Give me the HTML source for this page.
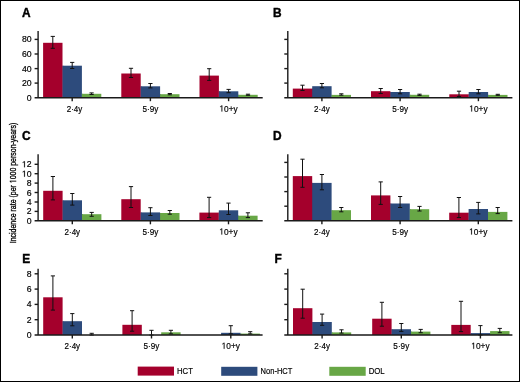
<!DOCTYPE html>
<html><head><meta charset="utf-8"><style>
html,body{margin:0;padding:0;background:#fff;}
.wrap{position:relative;width:518px;height:380px;border:1px solid #000;overflow:hidden;will-change:transform;}
svg{position:absolute;left:-1px;top:-1px;}
text{font-family:"Liberation Sans", sans-serif;fill:#000;stroke:#000;stroke-width:0.18px;}
.pl{font-size:11.9px;font-weight:bold;fill:#000;stroke:#000;stroke-width:0.4px;}
.xl{font-size:8.8px;text-anchor:middle;}
.yl{font-size:8.7px;text-anchor:end;}
.lg{font-size:8.9px;}
.yt{font-size:9.3px;text-anchor:middle;stroke-width:0.32px;}
.ax{stroke:#1a1a1a;stroke-width:1.4;fill:none;}
.eb{stroke:#111;stroke-width:1;fill:none;}
.h1{fill-opacity:0;stroke-opacity:0;}
.one{fill:#000;stroke:#000;stroke-width:42;}
</style></head><body><div class="wrap">
<svg width="520" height="382" viewBox="0 0 520 382">
<text x="21.9" y="16.8" class="pl">A</text>
<rect x="43.10" y="42.8" width="19.40" height="54.90" fill="#a4002c"/>
<rect x="62.30" y="65.7" width="1" height="32.00" fill="#a4002c"/>
<rect x="62.50" y="65.7" width="19.40" height="32.00" fill="#2d4b7c"/>
<rect x="81.70" y="93.8" width="1" height="3.90" fill="#2d4b7c"/>
<rect x="81.90" y="93.8" width="19.40" height="3.90" fill="#68a746"/>
<line x1="72.20" y1="97.7" x2="72.20" y2="101.2" class="ax"/>
<text x="74.50" y="111.5" class="xl" textLength="15.6" lengthAdjust="spacingAndGlyphs">2·4y</text>
<path d="M50.70 36.4H54.90M52.80 36.4V48.3M50.70 48.3H54.90" class="eb"/>
<path d="M70.10 62.4H74.30M72.20 62.4V68.5M70.10 68.5H74.30" class="eb"/>
<path d="M89.50 92.9H93.70M91.60 92.9V94.5M89.50 94.5H93.70" class="eb"/>
<rect x="121.30" y="73.5" width="19.40" height="24.20" fill="#a4002c"/>
<rect x="140.50" y="86.3" width="1" height="11.40" fill="#a4002c"/>
<rect x="140.70" y="86.3" width="19.40" height="11.40" fill="#2d4b7c"/>
<rect x="159.90" y="94.2" width="1" height="3.50" fill="#2d4b7c"/>
<rect x="160.10" y="94.2" width="19.40" height="3.50" fill="#68a746"/>
<line x1="150.40" y1="97.7" x2="150.40" y2="101.2" class="ax"/>
<text x="150.40" y="111.5" class="xl" textLength="15.9" lengthAdjust="spacingAndGlyphs">5·9y</text>
<path d="M128.90 68.3H133.10M131.00 68.3V77.5M128.90 77.5H133.10" class="eb"/>
<path d="M148.30 83.5H152.50M150.40 83.5V87.9M148.30 87.9H152.50" class="eb"/>
<path d="M167.70 93.5H171.90M169.80 93.5V94.8M167.70 94.8H171.90" class="eb"/>
<rect x="199.50" y="75.6" width="19.40" height="22.10" fill="#a4002c"/>
<rect x="218.70" y="91.3" width="1" height="6.40" fill="#a4002c"/>
<rect x="218.90" y="91.3" width="19.40" height="6.40" fill="#2d4b7c"/>
<rect x="238.10" y="94.8" width="1" height="2.90" fill="#2d4b7c"/>
<rect x="238.30" y="94.8" width="19.40" height="2.90" fill="#68a746"/>
<line x1="228.60" y1="97.7" x2="228.60" y2="101.2" class="ax"/>
<text x="228.60" y="111.5" class="xl" textLength="18.3" lengthAdjust="spacingAndGlyphs"><tspan class="h1">1</tspan>0+y</text><path d="M515 0V1237L197 1010V1180L530 1409H696V0Z" transform="translate(219.45 111.50) scale(0.00407 -0.00430)" class="one"/>
<path d="M207.10 68.7H211.30M209.20 68.7V80.4M207.10 80.4H211.30" class="eb"/>
<path d="M226.50 89.4H230.70M228.60 89.4V92.7M226.50 92.7H230.70" class="eb"/>
<path d="M245.90 94.2H250.10M248.00 94.2V95.3M245.90 95.3H250.10" class="eb"/>
<path d="M38.1 31.1V97.7M34.6 97.7H262.7" class="ax"/>
<line x1="34.6" y1="39.4" x2="38.1" y2="39.4" class="ax"/>
<line x1="34.6" y1="54.0" x2="38.1" y2="54.0" class="ax"/>
<line x1="34.6" y1="68.6" x2="38.1" y2="68.6" class="ax"/>
<line x1="34.6" y1="83.1" x2="38.1" y2="83.1" class="ax"/>
<text x="31.6" y="42.4" class="yl">80</text>
<text x="31.6" y="57.0" class="yl">60</text>
<text x="31.6" y="71.6" class="yl">40</text>
<text x="31.6" y="86.1" class="yl">20</text>
<text x="31.6" y="100.7" class="yl">0</text>
<text x="272.9" y="16.8" class="pl">B</text>
<rect x="292.80" y="88.6" width="19.40" height="9.10" fill="#a4002c"/>
<rect x="312.00" y="88.6" width="1" height="9.10" fill="#a4002c"/>
<rect x="312.20" y="86.2" width="19.40" height="11.50" fill="#2d4b7c"/>
<rect x="331.40" y="94.9" width="1" height="2.80" fill="#2d4b7c"/>
<rect x="331.60" y="94.9" width="19.40" height="2.80" fill="#68a746"/>
<line x1="321.90" y1="97.7" x2="321.90" y2="101.2" class="ax"/>
<text x="321.90" y="111.5" class="xl" textLength="15.6" lengthAdjust="spacingAndGlyphs">2·4y</text>
<path d="M300.40 85.2H304.60M302.50 85.2V90.5M300.40 90.5H304.60" class="eb"/>
<path d="M319.80 83.5H324.00M321.90 83.5V87.8M319.80 87.8H324.00" class="eb"/>
<path d="M339.20 93.8H343.40M341.30 93.8V95.2M339.20 95.2H343.40" class="eb"/>
<rect x="371.00" y="91.2" width="19.40" height="6.50" fill="#a4002c"/>
<rect x="390.20" y="92.0" width="1" height="5.70" fill="#a4002c"/>
<rect x="390.40" y="92.0" width="19.40" height="5.70" fill="#2d4b7c"/>
<rect x="409.60" y="94.8" width="1" height="2.90" fill="#2d4b7c"/>
<rect x="409.80" y="94.8" width="19.40" height="2.90" fill="#68a746"/>
<line x1="400.10" y1="97.7" x2="400.10" y2="101.2" class="ax"/>
<text x="400.10" y="111.5" class="xl" textLength="15.9" lengthAdjust="spacingAndGlyphs">5·9y</text>
<path d="M378.60 88.5H382.80M380.70 88.5V93.5M378.60 93.5H382.80" class="eb"/>
<path d="M398.00 89.5H402.20M400.10 89.5V93.8M398.00 93.8H402.20" class="eb"/>
<path d="M417.40 94.2H421.60M419.50 94.2V95.4M417.40 95.4H421.60" class="eb"/>
<rect x="449.30" y="94.3" width="19.40" height="3.40" fill="#a4002c"/>
<rect x="468.50" y="94.3" width="1" height="3.40" fill="#a4002c"/>
<rect x="468.70" y="92.0" width="19.40" height="5.70" fill="#2d4b7c"/>
<rect x="487.90" y="94.9" width="1" height="2.80" fill="#2d4b7c"/>
<rect x="488.10" y="94.9" width="19.40" height="2.80" fill="#68a746"/>
<line x1="478.40" y1="97.7" x2="478.40" y2="101.2" class="ax"/>
<text x="478.40" y="111.5" class="xl" textLength="18.3" lengthAdjust="spacingAndGlyphs"><tspan class="h1">1</tspan>0+y</text><path d="M515 0V1237L197 1010V1180L530 1409H696V0Z" transform="translate(469.25 111.50) scale(0.00407 -0.00430)" class="one"/>
<path d="M456.90 91.2H461.10M459.00 91.2V96.5M456.90 96.5H461.10" class="eb"/>
<path d="M476.30 89.5H480.50M478.40 89.5V93.8M476.30 93.8H480.50" class="eb"/>
<path d="M495.70 94.3H499.90M497.80 94.3V95.3M495.70 95.3H499.90" class="eb"/>
<path d="M287.8 31.1V97.7M284.3 97.7H512.4" class="ax"/>
<line x1="284.3" y1="39.4" x2="287.8" y2="39.4" class="ax"/>
<line x1="284.3" y1="54.0" x2="287.8" y2="54.0" class="ax"/>
<line x1="284.3" y1="68.6" x2="287.8" y2="68.6" class="ax"/>
<line x1="284.3" y1="83.1" x2="287.8" y2="83.1" class="ax"/>
<text x="21.9" y="139.8" class="pl">C</text>
<rect x="43.20" y="190.8" width="19.40" height="30.00" fill="#a4002c"/>
<rect x="62.40" y="200.3" width="1" height="20.50" fill="#a4002c"/>
<rect x="62.60" y="200.3" width="19.40" height="20.50" fill="#2d4b7c"/>
<rect x="81.80" y="214.2" width="1" height="6.60" fill="#2d4b7c"/>
<rect x="82.00" y="214.2" width="19.40" height="6.60" fill="#68a746"/>
<line x1="72.30" y1="220.8" x2="72.30" y2="224.3" class="ax"/>
<text x="72.30" y="234.6" class="xl" textLength="15.6" lengthAdjust="spacingAndGlyphs">2·4y</text>
<path d="M50.80 176.5H55.00M52.90 176.5V199.9M50.80 199.9H55.00" class="eb"/>
<path d="M70.20 193.5H74.40M72.30 193.5V205.1M70.20 205.1H74.40" class="eb"/>
<path d="M89.60 212.4H93.80M91.70 212.4V216.3M89.60 216.3H93.80" class="eb"/>
<rect x="121.30" y="199.2" width="19.40" height="21.60" fill="#a4002c"/>
<rect x="140.50" y="212.4" width="1" height="8.40" fill="#a4002c"/>
<rect x="140.70" y="212.4" width="19.40" height="8.40" fill="#2d4b7c"/>
<rect x="159.90" y="213.0" width="1" height="7.80" fill="#2d4b7c"/>
<rect x="160.10" y="213.0" width="19.40" height="7.80" fill="#68a746"/>
<line x1="150.40" y1="220.8" x2="150.40" y2="224.3" class="ax"/>
<text x="150.40" y="234.6" class="xl" textLength="15.9" lengthAdjust="spacingAndGlyphs">5·9y</text>
<path d="M128.90 186.6H133.10M131.00 186.6V207.5M128.90 207.5H133.10" class="eb"/>
<path d="M148.30 207.7H152.50M150.40 207.7V215.5M148.30 215.5H152.50" class="eb"/>
<path d="M167.70 210.5H171.90M169.80 210.5V214.2M167.70 214.2H171.90" class="eb"/>
<rect x="199.40" y="212.6" width="19.40" height="8.20" fill="#a4002c"/>
<rect x="218.60" y="212.6" width="1" height="8.20" fill="#a4002c"/>
<rect x="218.80" y="210.3" width="19.40" height="10.50" fill="#2d4b7c"/>
<rect x="238.00" y="215.7" width="1" height="5.10" fill="#2d4b7c"/>
<rect x="238.20" y="215.7" width="19.40" height="5.10" fill="#68a746"/>
<line x1="228.50" y1="220.8" x2="228.50" y2="224.3" class="ax"/>
<text x="228.50" y="234.6" class="xl" textLength="18.3" lengthAdjust="spacingAndGlyphs"><tspan class="h1">1</tspan>0+y</text><path d="M515 0V1237L197 1010V1180L530 1409H696V0Z" transform="translate(219.35 234.60) scale(0.00407 -0.00430)" class="one"/>
<path d="M207.00 197.3H211.20M209.10 197.3V217.6M207.00 217.6H211.20" class="eb"/>
<path d="M226.40 203.1H230.60M228.50 203.1V214.5M226.40 214.5H230.60" class="eb"/>
<path d="M245.80 212.8H250.00M247.90 212.8V217.6M245.80 217.6H250.00" class="eb"/>
<path d="M38.1 154.3V220.8M34.6 220.8H262.7" class="ax"/>
<line x1="34.6" y1="164.3" x2="38.1" y2="164.3" class="ax"/>
<line x1="34.6" y1="173.7" x2="38.1" y2="173.7" class="ax"/>
<line x1="34.6" y1="183.1" x2="38.1" y2="183.1" class="ax"/>
<line x1="34.6" y1="192.5" x2="38.1" y2="192.5" class="ax"/>
<line x1="34.6" y1="202.0" x2="38.1" y2="202.0" class="ax"/>
<line x1="34.6" y1="211.4" x2="38.1" y2="211.4" class="ax"/>
<text x="31.6" y="167.3" class="yl"><tspan class="h1">1</tspan>2</text><path d="M515 0V1237L197 1010V1180L530 1409H696V0Z" transform="translate(21.91 167.30) scale(0.00425 -0.00425)" class="one"/>
<text x="31.6" y="176.7" class="yl"><tspan class="h1">1</tspan>0</text><path d="M515 0V1237L197 1010V1180L530 1409H696V0Z" transform="translate(21.91 176.70) scale(0.00425 -0.00425)" class="one"/>
<text x="31.6" y="186.1" class="yl">8</text>
<text x="31.6" y="195.5" class="yl">6</text>
<text x="31.6" y="205.0" class="yl">4</text>
<text x="31.6" y="214.4" class="yl">2</text>
<text x="31.6" y="223.8" class="yl">0</text>
<text x="272.9" y="139.8" class="pl">D</text>
<rect x="292.80" y="176.1" width="19.40" height="44.70" fill="#a4002c"/>
<rect x="312.00" y="182.9" width="1" height="37.90" fill="#a4002c"/>
<rect x="312.20" y="182.9" width="19.40" height="37.90" fill="#2d4b7c"/>
<rect x="331.40" y="210.2" width="1" height="10.60" fill="#2d4b7c"/>
<rect x="331.60" y="210.2" width="19.40" height="10.60" fill="#68a746"/>
<line x1="321.90" y1="220.8" x2="321.90" y2="224.3" class="ax"/>
<text x="321.90" y="234.6" class="xl" textLength="15.6" lengthAdjust="spacingAndGlyphs">2·4y</text>
<path d="M300.40 159.2H304.60M302.50 159.2V187.3M300.40 187.3H304.60" class="eb"/>
<path d="M319.80 174.5H324.00M321.90 174.5V189.8M319.80 189.8H324.00" class="eb"/>
<path d="M339.20 207.5H343.40M341.30 207.5V211.8M339.20 211.8H343.40" class="eb"/>
<rect x="371.00" y="195.4" width="19.40" height="25.40" fill="#a4002c"/>
<rect x="390.20" y="203.5" width="1" height="17.30" fill="#a4002c"/>
<rect x="390.40" y="203.5" width="19.40" height="17.30" fill="#2d4b7c"/>
<rect x="409.60" y="209.2" width="1" height="11.60" fill="#2d4b7c"/>
<rect x="409.80" y="209.2" width="19.40" height="11.60" fill="#68a746"/>
<line x1="400.10" y1="220.8" x2="400.10" y2="224.3" class="ax"/>
<text x="400.10" y="234.6" class="xl" textLength="15.9" lengthAdjust="spacingAndGlyphs">5·9y</text>
<path d="M378.60 181.9H382.80M380.70 181.9V204.4M378.60 204.4H382.80" class="eb"/>
<path d="M398.00 196.5H402.20M400.10 196.5V207.5M398.00 207.5H402.20" class="eb"/>
<path d="M417.40 206.4H421.60M419.50 206.4V211.0M417.40 211.0H421.60" class="eb"/>
<rect x="449.20" y="212.7" width="19.40" height="8.10" fill="#a4002c"/>
<rect x="468.40" y="212.7" width="1" height="8.10" fill="#a4002c"/>
<rect x="468.60" y="209.0" width="19.40" height="11.80" fill="#2d4b7c"/>
<rect x="487.80" y="211.9" width="1" height="8.90" fill="#2d4b7c"/>
<rect x="488.00" y="211.9" width="19.40" height="8.90" fill="#68a746"/>
<line x1="478.30" y1="220.8" x2="478.30" y2="224.3" class="ax"/>
<text x="478.30" y="234.6" class="xl" textLength="18.3" lengthAdjust="spacingAndGlyphs"><tspan class="h1">1</tspan>0+y</text><path d="M515 0V1237L197 1010V1180L530 1409H696V0Z" transform="translate(469.15 234.60) scale(0.00407 -0.00430)" class="one"/>
<path d="M456.80 197.5H461.00M458.90 197.5V217.6M456.80 217.6H461.00" class="eb"/>
<path d="M476.20 202.4H480.40M478.30 202.4V213.9M476.20 213.9H480.40" class="eb"/>
<path d="M495.60 207.5H499.80M497.70 207.5V213.6M495.60 213.6H499.80" class="eb"/>
<path d="M287.8 154.3V220.8M284.3 220.8H512.4" class="ax"/>
<line x1="284.3" y1="162.4" x2="287.8" y2="162.4" class="ax"/>
<line x1="284.3" y1="177.0" x2="287.8" y2="177.0" class="ax"/>
<line x1="284.3" y1="191.6" x2="287.8" y2="191.6" class="ax"/>
<line x1="284.3" y1="206.2" x2="287.8" y2="206.2" class="ax"/>
<text x="22.2" y="262.8" class="pl">E</text>
<rect x="43.20" y="297.3" width="19.40" height="37.70" fill="#a4002c"/>
<rect x="62.40" y="321.2" width="1" height="13.80" fill="#a4002c"/>
<rect x="62.60" y="321.2" width="19.40" height="13.80" fill="#2d4b7c"/>
<line x1="72.30" y1="335.0" x2="72.30" y2="338.5" class="ax"/>
<text x="72.30" y="348.8" class="xl" textLength="15.6" lengthAdjust="spacingAndGlyphs">2·4y</text>
<path d="M50.80 275.9H55.00M52.90 275.9V310.1M50.80 310.1H55.00" class="eb"/>
<path d="M70.20 313.6H74.40M72.30 313.6V325.8M70.20 325.8H74.40" class="eb"/>
<path d="M89.60 333.3H93.80M91.70 333.3V335.0M89.60 335.0H93.80" class="eb"/>
<rect x="122.40" y="324.8" width="19.40" height="10.20" fill="#a4002c"/>
<rect x="161.20" y="332.3" width="19.40" height="2.70" fill="#68a746"/>
<line x1="151.50" y1="335.0" x2="151.50" y2="338.5" class="ax"/>
<text x="151.50" y="348.8" class="xl" textLength="15.9" lengthAdjust="spacingAndGlyphs">5·9y</text>
<path d="M130.00 310.7H134.20M132.10 310.7V331.2M130.00 331.2H134.20" class="eb"/>
<path d="M149.40 330.3H153.60M151.50 330.3V335.0M149.40 335.0H153.60" class="eb"/>
<path d="M168.80 330.3H173.00M170.90 330.3V333.9M168.80 333.9H173.00" class="eb"/>
<rect x="221.10" y="332.8" width="19.40" height="2.20" fill="#2d4b7c"/>
<rect x="240.30" y="333.6" width="1" height="1.40" fill="#2d4b7c"/>
<rect x="240.50" y="333.6" width="19.40" height="1.40" fill="#68a746"/>
<line x1="230.80" y1="335.0" x2="230.80" y2="338.5" class="ax"/>
<text x="230.80" y="348.8" class="xl" textLength="18.3" lengthAdjust="spacingAndGlyphs"><tspan class="h1">1</tspan>0+y</text><path d="M515 0V1237L197 1010V1180L530 1409H696V0Z" transform="translate(221.65 348.80) scale(0.00407 -0.00430)" class="one"/>
<path d="M228.70 325.7H232.90M230.80 325.7V333.9M228.70 333.9H232.90" class="eb"/>
<path d="M248.10 331.7H252.30M250.20 331.7V333.9M248.10 333.9H252.30" class="eb"/>
<path d="M38.1 268.7V335.0M34.6 335.0H262.6" class="ax"/>
<line x1="34.6" y1="273.8" x2="38.1" y2="273.8" class="ax"/>
<line x1="34.6" y1="289.1" x2="38.1" y2="289.1" class="ax"/>
<line x1="34.6" y1="304.4" x2="38.1" y2="304.4" class="ax"/>
<line x1="34.6" y1="319.7" x2="38.1" y2="319.7" class="ax"/>
<text x="31.6" y="276.8" class="yl">8</text>
<text x="31.6" y="292.1" class="yl">6</text>
<text x="31.6" y="307.4" class="yl">4</text>
<text x="31.6" y="322.7" class="yl">2</text>
<text x="31.6" y="338.0" class="yl">0</text>
<text x="274.5" y="262.8" class="pl">F</text>
<rect x="293.00" y="308.2" width="19.40" height="26.80" fill="#a4002c"/>
<rect x="312.20" y="322.0" width="1" height="13.00" fill="#a4002c"/>
<rect x="312.40" y="322.0" width="19.40" height="13.00" fill="#2d4b7c"/>
<rect x="331.60" y="332.4" width="1" height="2.60" fill="#2d4b7c"/>
<rect x="331.80" y="332.4" width="19.40" height="2.60" fill="#68a746"/>
<line x1="322.10" y1="335.0" x2="322.10" y2="338.5" class="ax"/>
<text x="322.10" y="348.8" class="xl" textLength="15.6" lengthAdjust="spacingAndGlyphs">2·4y</text>
<path d="M300.60 289.2H304.80M302.70 289.2V318.2M300.60 318.2H304.80" class="eb"/>
<path d="M320.00 314.1H324.20M322.10 314.1V325.3M320.00 325.3H324.20" class="eb"/>
<path d="M339.40 329.8H343.60M341.50 329.8V333.1M339.40 333.1H343.60" class="eb"/>
<rect x="372.20" y="318.7" width="19.40" height="16.30" fill="#a4002c"/>
<rect x="391.40" y="329.2" width="1" height="5.80" fill="#a4002c"/>
<rect x="391.60" y="329.2" width="19.40" height="5.80" fill="#2d4b7c"/>
<rect x="410.80" y="331.6" width="1" height="3.40" fill="#2d4b7c"/>
<rect x="411.00" y="331.6" width="19.40" height="3.40" fill="#68a746"/>
<line x1="401.30" y1="335.0" x2="401.30" y2="338.5" class="ax"/>
<text x="401.30" y="348.8" class="xl" textLength="15.9" lengthAdjust="spacingAndGlyphs">5·9y</text>
<path d="M379.80 302.3H384.00M381.90 302.3V326.2M379.80 326.2H384.00" class="eb"/>
<path d="M399.20 323.5H403.40M401.30 323.5V331.4M399.20 331.4H403.40" class="eb"/>
<path d="M418.60 329.4H422.80M420.70 329.4V332.7M418.60 332.7H422.80" class="eb"/>
<rect x="451.30" y="324.9" width="19.40" height="10.10" fill="#a4002c"/>
<rect x="470.50" y="333.1" width="1" height="1.90" fill="#a4002c"/>
<rect x="470.70" y="333.1" width="19.40" height="1.90" fill="#2d4b7c"/>
<rect x="489.90" y="333.1" width="1" height="1.90" fill="#2d4b7c"/>
<rect x="490.10" y="331.1" width="19.40" height="3.90" fill="#68a746"/>
<line x1="480.40" y1="335.0" x2="480.40" y2="338.5" class="ax"/>
<text x="480.40" y="348.8" class="xl" textLength="18.3" lengthAdjust="spacingAndGlyphs"><tspan class="h1">1</tspan>0+y</text><path d="M515 0V1237L197 1010V1180L530 1409H696V0Z" transform="translate(471.25 348.80) scale(0.00407 -0.00430)" class="one"/>
<path d="M458.90 301.3H463.10M461.00 301.3V331.6M458.90 331.6H463.10" class="eb"/>
<path d="M478.30 325.6H482.50M480.40 325.6V335.0M478.30 335.0H482.50" class="eb"/>
<path d="M497.70 328.4H501.90M499.80 328.4V332.7M497.70 332.7H501.90" class="eb"/>
<path d="M287.8 268.7V335.0M284.3 335.0H512.4" class="ax"/>
<line x1="284.3" y1="273.8" x2="287.8" y2="273.8" class="ax"/>
<line x1="284.3" y1="289.1" x2="287.8" y2="289.1" class="ax"/>
<line x1="284.3" y1="304.4" x2="287.8" y2="304.4" class="ax"/>
<line x1="284.3" y1="319.7" x2="287.8" y2="319.7" class="ax"/>
<rect x="137.7" y="366.6" width="36.3" height="9" fill="#a4002c"/>
<text x="177.0" y="373.8" class="lg" textLength="15.9" lengthAdjust="spacingAndGlyphs">HCT</text>
<rect x="221.2" y="366.8" width="36.2" height="9" fill="#2d4b7c"/>
<text x="260.6" y="373.8" class="lg" textLength="31.8" lengthAdjust="spacingAndGlyphs">Non-HCT</text>
<rect x="329.3" y="366.8" width="36.4" height="9" fill="#68a746"/>
<text x="368.7" y="373.8" class="lg" textLength="16.0" lengthAdjust="spacingAndGlyphs">DOL</text>
<text x="0" y="0" class="yt" transform="translate(16.2 183) rotate(-90)" textLength="120.5" lengthAdjust="spacingAndGlyphs">Incidence rate (per <tspan class="h1">1</tspan>000 person-years)</text><g transform="translate(16.2 183) rotate(-90)"><path d="M515 0V1237L197 1010V1180L530 1409H696V0Z" transform="translate(-0.19 0.00) scale(0.00340 -0.00454)" class="one"/></g>
</svg></div></body></html>
